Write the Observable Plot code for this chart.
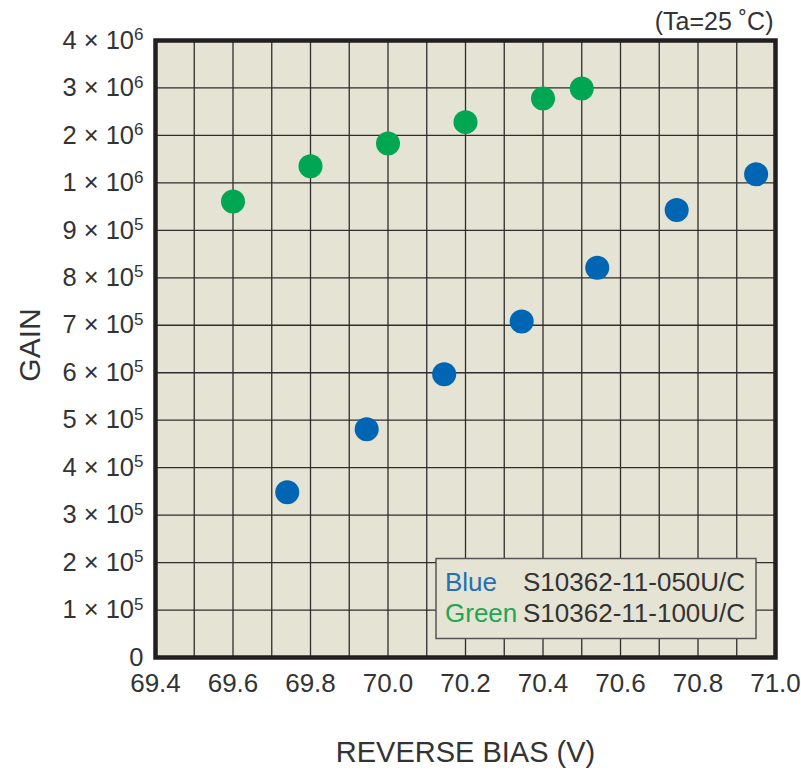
<!DOCTYPE html>
<html>
<head>
<meta charset="utf-8">
<script src="https://cdn.jsdelivr.net/npm/d3@7"></script>
<script src="https://cdn.jsdelivr.net/npm/@observablehq/plot@0.6"></script>
<style>
  html, body { margin: 0; padding: 0; background: #ffffff; }
  #chart { width: 801px; height: 773px; }
</style>
</head>
<body>
<div id="chart"></div>
<script>
// ---- data ----
const blueBias  = [69.74, 69.945, 70.145, 70.345, 70.54, 70.745, 70.95];
const blueGain  = [3.48e5, 4.81e5, 5.97e5, 7.08e5, 8.21e5, 9.43e5, 1.18e6];
const greenBias = [69.6, 69.8, 70.0, 70.2, 70.4, 70.5];
const greenGain = [9.61e5, 1.35e6, 1.83e6, 2.28e6, 2.78e6, 2.99e6];

const yTickValues   = [0, 1e5, 2e5, 3e5, 4e5, 5e5, 6e5, 7e5, 8e5, 9e5, 1e6, 2e6, 3e6, 4e6];
const yTickMantissa = ["0", "1", "2", "3", "4", "5", "6", "7", "8", "9", "1", "2", "3", "4"];
const yTickExponent = ["", "5", "5", "5", "5", "5", "5", "5", "5", "5", "6", "6", "6", "6"];
const xTickValues   = [69.4, 69.6, 69.8, 70.0, 70.2, 70.4, 70.6, 70.8, 71.0];
const xGridValues   = [69.4, 69.5, 69.6, 69.7, 69.8, 69.9, 70.0, 70.1, 70.2, 70.3, 70.4, 70.5, 70.6, 70.7, 70.8, 70.9, 71.0];
const legendNames   = ["Blue", "Green"];
const legendParts   = ["S10362-11-050U/C", "S10362-11-100U/C"];
const xTitle = "REVERSE BIAS (V)";
const yTitle = "GAIN";
const note = "(Ta=25 \u02DAC)";

// ---- styles ----
const BG = "#e5e3d3";
const GRID = "#2e2e2e";
const FRAME = "#231f20";
const BLUE = "#0065b3";
const GREEN = "#00a651";
const BLUE_TXT = "#2370b8";
const GREEN_TXT = "#1fa653";
const TXT = "#333333";
const FONT = "'Liberation Sans', Arial, Helvetica, sans-serif";

const blue  = blueBias.map((x, i) => ({bias: x, gain: blueGain[i]}));
const green = greenBias.map((x, i) => ({bias: x, gain: greenGain[i]}));
const yLabel = (d) => {
  const i = yTickValues.indexOf(d);
  return yTickExponent[i] ? `${yTickMantissa[i]} \u00D7 10^${yTickExponent[i]}` : yTickMantissa[i];
};

const chart = Plot.plot({
  width: 801,
  height: 773,
  marginLeft: 155,
  marginRight: 26,
  marginTop: 40,
  marginBottom: 116,
  style: {fontFamily: FONT, fontSize: "24px", color: TXT, background: "#ffffff", overflow: "visible"},
  x: {type: "linear", domain: [69.4, 71.0]},
  y: {type: "linear", domain: yTickValues},
  marks: [
    Plot.frame({fill: BG, stroke: null}),
    Plot.gridX({ticks: xGridValues, stroke: GRID, strokeOpacity: 1, strokeWidth: 1.3}),
    Plot.gridY({ticks: yTickValues, stroke: GRID, strokeOpacity: 1, strokeWidth: 1.3}),
    Plot.axisX({ticks: xTickValues, tickFormat: d3.format(".1f"), tickSize: 0, tickPadding: 16, fontSize: 26, label: null}),
    Plot.axisY({ticks: yTickValues, tickFormat: yLabel, tickSize: 0, tickPadding: 12, fontSize: 25.5, label: null}),
    Plot.dot(blue,  {x: "bias", y: "gain", r: 12, fill: BLUE, stroke: null}),
    Plot.dot(green, {x: "bias", y: "gain", r: 12, fill: GREEN, stroke: null}),
    Plot.frame({stroke: FRAME, strokeWidth: 4.5, fill: null}),
    Plot.text([yTitle], {frameAnchor: "left", textAnchor: "middle", dx: -125, dy: -4, rotate: -90, fontSize: 30, fill: TXT}),
    Plot.text([xTitle], {frameAnchor: "bottom", textAnchor: "middle", dy: 104, fontSize: 29, fill: TXT}),
    Plot.text([note], {frameAnchor: "top-right", textAnchor: "end", lineAnchor: "bottom", dx: -2, dy: -11, fontSize: 25, fill: TXT})
  ]
});

document.getElementById("chart").appendChild(chart);

// superscript exponents on the y tick labels
const svg = d3.select(chart);
svg.selectAll('g[aria-label="y-axis tick label"] text').each(function () {
  const t = d3.select(this);
  const s = t.text();
  if (s.includes("^")) {
    const [base, exp] = s.split("^");
    t.text(base);
    t.append("tspan").attr("font-size", 17).attr("dy", "-0.5em").text(exp);
  }
});

// legend box
const lg = svg.append("g").attr("aria-label", "legend").attr("text-anchor", "start");
lg.append("rect")
  .attr("x", 436).attr("y", 558.5).attr("width", 320).attr("height", 80)
  .attr("fill", BG).attr("stroke", "#555555").attr("stroke-width", 1.5);
const legendColors = [BLUE_TXT, GREEN_TXT];
legendNames.forEach((name, i) => {
  lg.append("text").attr("x", 445).attr("y", 590.5 + i * 31).attr("text-anchor", "start")
    .attr("font-size", 26).attr("fill", legendColors[i]).text(name);
  lg.append("text").attr("x", 523).attr("y", 590.5 + i * 31).attr("text-anchor", "start")
    .attr("font-size", 26).attr("fill", TXT).text(legendParts[i]);
});
</script>
</body>
</html>
